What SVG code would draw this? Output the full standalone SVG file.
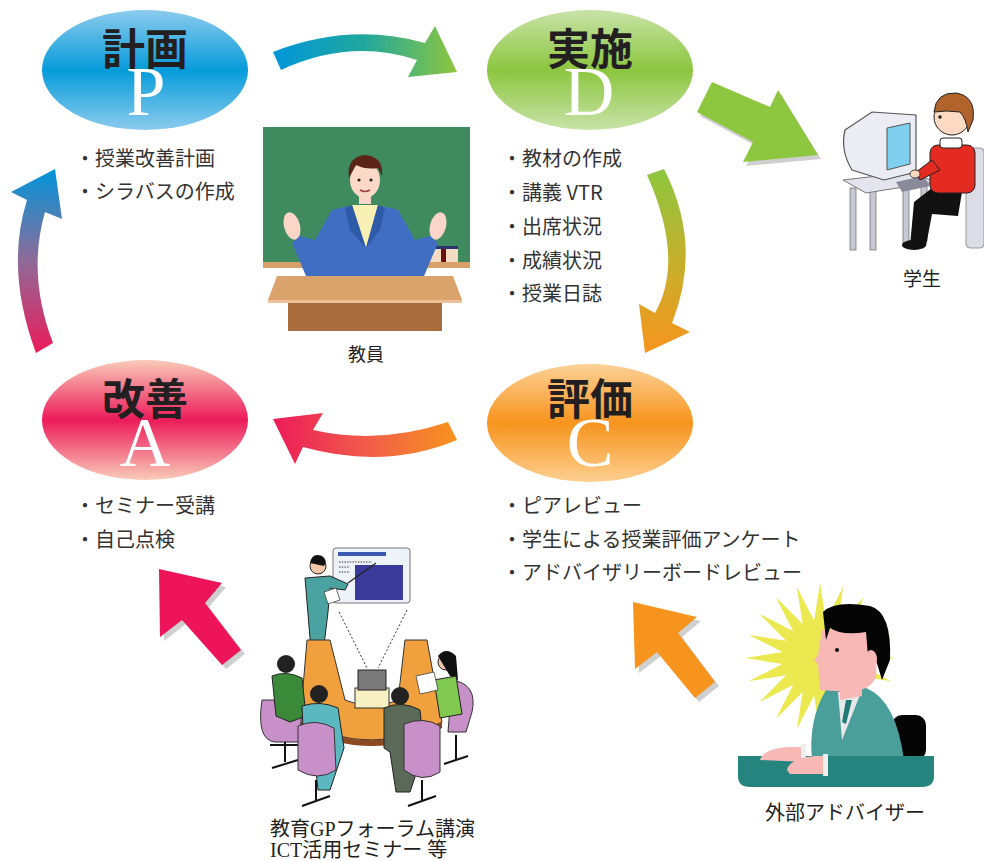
<svg xmlns="http://www.w3.org/2000/svg" width="984" height="861" viewBox="0 0 984 861">
  <defs>
    <style>
      .title { font-family: "Noto Sans CJK JP", "Noto Sans", sans-serif; font-weight: 700; font-size: 43px; fill: #231f20; text-anchor: middle; }
      .letter { font-family: "Liberation Serif", "Times New Roman", serif; font-size: 70px; fill: #ffffff; text-anchor: middle; }
      .item { font-family: "Noto Sans CJK JP", "Noto Sans", sans-serif; font-size: 20px; fill: #333333; }
      .cap { font-family: "Liberation Serif", "Noto Sans CJK JP", serif; fill: #231f20; text-anchor: middle; }
      .capl { font-family: "Liberation Serif", "Noto Sans CJK JP", serif; fill: #231f20; font-size: 20px; }
      .shadow { fill: #cfcfcf; }
    </style>
    <linearGradient id="gP" x1="0" y1="0" x2="0" y2="1">
      <stop offset="0" stop-color="#8ccbee"/>
      <stop offset="0.5" stop-color="#069cda"/>
      <stop offset="1" stop-color="#8ccbee"/>
    </linearGradient>
    <linearGradient id="gD" x1="0" y1="0" x2="0" y2="1">
      <stop offset="0" stop-color="#c8e3a8"/>
      <stop offset="0.5" stop-color="#8cc63f"/>
      <stop offset="1" stop-color="#c8e3a8"/>
    </linearGradient>
    <linearGradient id="gC" x1="0" y1="0" x2="0" y2="1">
      <stop offset="0" stop-color="#fdd197"/>
      <stop offset="0.5" stop-color="#f7941d"/>
      <stop offset="1" stop-color="#fdcf90"/>
    </linearGradient>
    <linearGradient id="gA" x1="0" y1="0" x2="0" y2="1">
      <stop offset="0" stop-color="#f9cbb8"/>
      <stop offset="0.5" stop-color="#ec1b5a"/>
      <stop offset="1" stop-color="#f9cbb8"/>
    </linearGradient>
    <linearGradient id="aPD" gradientUnits="userSpaceOnUse" x1="273" y1="0" x2="457" y2="0">
      <stop offset="0" stop-color="#0096da"/>
      <stop offset="0.5" stop-color="#22a89c"/>
      <stop offset="1" stop-color="#8dc63f"/>
    </linearGradient>
    <linearGradient id="aDC" gradientUnits="userSpaceOnUse" x1="0" y1="170" x2="0" y2="353">
      <stop offset="0" stop-color="#8dc63f"/>
      <stop offset="0.5" stop-color="#c6b02c"/>
      <stop offset="1" stop-color="#f7941d"/>
    </linearGradient>
    <linearGradient id="aCA" gradientUnits="userSpaceOnUse" x1="457" y1="0" x2="273" y2="0">
      <stop offset="0" stop-color="#f7941d"/>
      <stop offset="0.5" stop-color="#f15b4a"/>
      <stop offset="1" stop-color="#ec1b5a"/>
    </linearGradient>
    <linearGradient id="aAP" gradientUnits="userSpaceOnUse" x1="0" y1="353" x2="0" y2="169">
      <stop offset="0" stop-color="#ec1b5a"/>
      <stop offset="0.5" stop-color="#8f6a98"/>
      <stop offset="1" stop-color="#0096da"/>
    </linearGradient>
  </defs>

  <rect width="984" height="861" fill="#ffffff"/>

  <!-- cycle arrows and pointer arrows -->
  <g id="connectors">
    <path d="M273,52 Q350,22 425,43 L435,26 L457,72 L408,77 L417,60 Q350,38 281,70 Z" fill="url(#aPD)"/>
    <path d="M647,175 Q685,260 655,313 L639,304 L645,353 L690,332 L672,323 Q703,245 664,169 Z" fill="url(#aDC)"/>
    <path d="M448,422 Q380,445 313,430 L323,413 L273,419 L295,464 L303,447 Q385,470 457,440 Z" fill="url(#aCA)"/>
    <path d="M36,353 Q5,270 27,200 L11,192 L55,169 L62,219 L45,212 Q27,275 53,343 Z" fill="url(#aAP)"/>

    <!-- plan to student -->
    <g>
      <polygon class="shadow" transform="translate(3,4)" points="712,82 770,107 778,90 818,155 743,162 753,142 697,112"/>
      <polygon fill="#8dc63f" points="712,82 770,107 778,90 818,155 743,162 753,142 697,112"/>
    </g>
    <!-- seminar to act -->
    <g>
      <polygon class="shadow" transform="translate(4,4)" points="159,569 222,583 205,603 241,650 222,665 182,620 160,637"/>
      <polygon fill="#ed1459" points="159,569 222,583 205,603 241,650 222,665 182,620 160,637"/>
    </g>
    <!-- adviser to check -->
    <g>
      <polygon class="shadow" transform="translate(4,4)" points="633,602 697,617 678,633 715,682 695,698 657,652 635,669"/>
      <polygon fill="#f7941d" points="633,602 697,617 678,633 715,682 695,698 657,652 635,669"/>
    </g>
  </g>

  <!-- Plan -->
  <g id="plan">
    <ellipse cx="145" cy="70" rx="103" ry="60" fill="url(#gP)"/>
    <text class="title" x="145" y="65">計画</text>
    <text class="letter" x="146" y="115">P</text>
    <text class="item" x="75" y="166">・授業改善計画</text>
    <text class="item" x="75" y="199">・シラバスの作成</text>
  </g>

  <!-- Do -->
  <g id="do">
    <ellipse cx="590" cy="70" rx="103" ry="60" fill="url(#gD)"/>
    <text class="title" x="590" y="65">実施</text>
    <text class="letter" x="589" y="115">D</text>
    <text class="item" x="502" y="166">・教材の作成</text>
    <text class="item" x="502" y="200">・講義 VTR</text>
    <text class="item" x="502" y="234">・出席状況</text>
    <text class="item" x="502" y="268">・成績状況</text>
    <text class="item" x="502" y="301">・授業日誌</text>
  </g>

  <!-- Check -->
  <g id="check">
    <ellipse cx="590" cy="423" rx="103" ry="59" fill="url(#gC)"/>
    <text class="title" x="590" y="415">評価</text>
    <text class="letter" x="590" y="466">C</text>
    <text class="item" x="502" y="513">・ピアレビュー</text>
    <text class="item" x="502" y="547">・学生による授業評価アンケート</text>
    <text class="item" x="502" y="580">・アドバイザリーボードレビュー</text>
  </g>

  <!-- Act -->
  <g id="act">
    <ellipse cx="145" cy="420" rx="103" ry="60" fill="url(#gA)"/>
    <text class="title" x="145" y="415">改善</text>
    <text class="letter" x="145" y="466">A</text>
    <text class="item" x="75" y="513">・セミナー受講</text>
    <text class="item" x="75" y="547">・自己点検</text>
  </g>

  <!-- Teacher at the blackboard -->
  <g id="teacher">
    <rect x="263" y="127" width="207" height="135" fill="#3f8b5f"/>
    <rect x="263" y="262" width="207" height="6" fill="#d9a06a"/>
    <rect x="430" y="246" width="28" height="16" fill="#f2dcc4"/>
    <rect x="430" y="246" width="28" height="3" fill="#2a3470"/>
    <rect x="441" y="249" width="5" height="13" fill="#6a1010"/>
    <!-- hands -->
    <ellipse cx="292" cy="226" rx="8" ry="14" fill="#fbd6c8" transform="rotate(-15 292 226)"/>
    <ellipse cx="438" cy="226" rx="8" ry="14" fill="#fbd6c8" transform="rotate(15 438 226)"/>
    <!-- jacket -->
    <path d="M306,276 L292,243 L300,236 L315,240 L332,210 Q365,200 398,210 L415,240 L430,236 L438,243 L424,276 Z" fill="#3f6ec2"/>
    <path d="M352,205 L378,205 L366,248 Z" fill="#f7efb4"/>
    <path d="M345,208 L352,205 L366,248 L350,230 Z M385,208 L378,205 L366,248 L380,230 Z" fill="#2f5aa8"/>
    <!-- head -->
    <rect x="359" y="190" width="12" height="14" fill="#fbd6c8"/>
    <ellipse cx="365" cy="180" rx="15" ry="18" fill="#fbd9c6"/>
    <path d="M349,178 Q346,158 364,155 Q384,156 382,176 L378,168 Q366,170 356,165 Z" fill="#5b2417"/>
    <circle cx="359" cy="180" r="1.6" fill="#222"/>
    <circle cx="371" cy="180" r="1.6" fill="#222"/>
    <path d="M360,190 Q365,193 370,190" stroke="#a04040" stroke-width="1.5" fill="none"/>
    <!-- desk -->
    <polygon points="277,276 453,276 462,300 268,300" fill="#dba36c"/>
    <rect x="268" y="300" width="194" height="3" fill="#edc09a"/>
    <rect x="288" y="303" width="154" height="28" fill="#a96d3d"/>
    <text class="cap" x="366" y="361" font-size="18">教員</text>
  </g>

  <!-- Student at a computer -->
  <g id="student">
    <rect x="966" y="148" width="18" height="100" rx="4" fill="#dcdce6" stroke="#999" stroke-width="1"/>
    <!-- desk -->
    <rect x="850" y="188" width="6" height="62" fill="#c8c8d4" stroke="#777" stroke-width="0.8"/>
    <rect x="870" y="190" width="6" height="60" fill="#c8c8d4" stroke="#777" stroke-width="0.8"/>
    <rect x="903" y="188" width="6" height="55" fill="#c8c8d4" stroke="#777" stroke-width="0.8"/>
    <rect x="921" y="186" width="6" height="55" fill="#c8c8d4" stroke="#777" stroke-width="0.8"/>
    <polygon points="843,180 912,172 935,182 866,193" fill="#e4e4ee" stroke="#777" stroke-width="1"/>
    <!-- monitor -->
    <path d="M845,130 L872,112 L916,115 L916,172 L884,180 L852,170 Q840,150 845,130 Z" fill="#ececf4" stroke="#555" stroke-width="1.2"/>
    <polygon points="887,128 910,123 910,164 887,170" fill="#7fd0ee" stroke="#555" stroke-width="1"/>
    <polygon points="896,182 924,176 930,186 902,192" fill="#8a8a9a"/>
    <!-- boy -->
    <path d="M932,188 L962,192 L958,216 L932,214 L926,246 L910,246 L914,202 Z" fill="#111"/>
    <ellipse cx="914" cy="245" rx="12" ry="5" fill="#111"/>
    <rect x="930" y="145" width="45" height="48" rx="8" fill="#e32b22" stroke="#222" stroke-width="1"/>
    <path d="M932,160 L916,172 L920,180 L940,170 Z" fill="#e32b22" stroke="#222" stroke-width="1"/>
    <ellipse cx="915" cy="174" rx="5" ry="4" fill="#fbd6c0" stroke="#222" stroke-width="0.8"/>
    <rect x="940" y="138" width="22" height="10" rx="3" fill="#ffffff" stroke="#222" stroke-width="1"/>
    <circle cx="952" cy="117" r="18" fill="#fbd9c2" stroke="#222" stroke-width="1"/>
    <path d="M934,112 Q936,92 956,93 Q976,96 973,120 L968,132 Q966,118 960,112 Q946,110 934,112 Z" fill="#b0632a" stroke="#222" stroke-width="1"/>
    <circle cx="940" cy="117" r="1.8" fill="#222"/>
    <text class="cap" x="922" y="286" font-size="19">学生</text>
  </g>

  <!-- Seminar -->
  <g id="seminar">
    <!-- screen -->
    <rect x="333" y="548" width="77" height="55" rx="3" fill="#eef3fa" stroke="#777" stroke-width="1"/>
    <rect x="338" y="552" width="48" height="4" fill="#3b5bb0"/>
    <rect x="355" y="565" width="48" height="35" fill="#3a3a9a"/>
    <path d="M339,562 H372 M339,567 H350 M339,572 H350" stroke="#777" stroke-width="1.5" stroke-dasharray="1.5,1.2"/>
    <line x1="348" y1="583" x2="376" y2="563" stroke="#222" stroke-width="1.2"/>
    <!-- presenter -->
    <circle cx="318" cy="566" r="8" fill="#f4c8a8" stroke="#222"/>
    <path d="M310,563 Q312,552 322,556 Q328,560 324,566 Z" fill="#111"/>
    <path d="M305,578 L330,576 L348,584 L345,590 L330,588 L328,612 L322,662 L312,662 L308,614 Z" fill="#4aa3a0" stroke="#222" stroke-width="1"/>
    <polygon points="324,592 336,588 340,600 328,604" fill="#ffffff" stroke="#444" stroke-width="0.8"/>
    <!-- projector rays -->
    <line x1="339" y1="612" x2="367" y2="668" stroke="#333" stroke-width="1" stroke-dasharray="2,2"/>
    <line x1="407" y1="610" x2="378" y2="668" stroke="#333" stroke-width="1" stroke-dasharray="2,2"/>
    <!-- table -->
    <path d="M307,640 L330,640 L345,700 Q372,712 398,700 L405,640 L427,640 L442,722 Q372,758 300,722 Z" fill="#f0a03c" stroke="#333" stroke-width="1"/>
    <path d="M300,722 Q372,758 442,722 L442,728 Q372,764 300,728 Z" fill="#8b4a22"/>
    <!-- projector -->
    <rect x="355" y="688" width="34" height="20" fill="#f6f0c2" stroke="#333" stroke-width="1"/>
    <rect x="358" y="670" width="28" height="20" fill="#7a7a7a" stroke="#222" stroke-width="1"/>
    <!-- left person -->
    <path d="M292,690 L278,690 L275,700 L262,700 Q256,740 275,742 L300,742 L302,700 Z" fill="#c890c8" stroke="#333" stroke-width="1"/>
    <circle cx="286" cy="664" r="9" fill="#222"/>
    <path d="M272,676 Q286,670 302,678 L306,716 L290,722 L276,716 Z" fill="#3a8a3a" stroke="#222" stroke-width="1"/>
    <path d="M270,745 L300,745 M285,742 L285,762 M272,768 L298,760" stroke="#111" stroke-width="2"/>
    <!-- right woman -->
    <path d="M452,680 Q478,684 472,712 L466,732 L448,732 Z" fill="#c890c8" stroke="#333" stroke-width="1"/>
    <circle cx="446" cy="662" r="8" fill="#f4c8a8" stroke="#222"/>
    <path d="M438,656 Q446,646 456,656 L458,680 L450,676 Z" fill="#111"/>
    <path d="M434,680 L456,676 L462,714 L440,718 Z" fill="#80c850" stroke="#222" stroke-width="1"/>
    <polygon points="416,676 434,672 438,690 420,694" fill="#ffffff" stroke="#444" stroke-width="0.8"/>
    <path d="M456,735 L456,760 M444,764 L468,756" stroke="#111" stroke-width="2"/>
    <!-- front-left person -->
    <circle cx="319" cy="694" r="9" fill="#222"/>
    <path d="M302,706 Q320,700 338,708 L344,748 L330,790 L318,790 L314,752 L304,750 Z" fill="#5cb8c0" stroke="#222" stroke-width="1"/>
    <path d="M298,726 Q316,718 334,728 L336,770 Q318,782 298,770 Z" fill="#c890c8" stroke="#333" stroke-width="1"/>
    <path d="M316,780 L316,800 M302,806 L330,796" stroke="#111" stroke-width="2"/>
    <!-- front-right person -->
    <circle cx="400" cy="696" r="9" fill="#222"/>
    <path d="M384,708 Q402,700 420,710 L424,750 L410,792 L396,792 L390,752 L384,748 Z" fill="#5b6a58" stroke="#222" stroke-width="1"/>
    <path d="M404,724 Q424,716 440,726 L440,772 Q422,784 404,770 Z" fill="#c890c8" stroke="#333" stroke-width="1"/>
    <path d="M422,780 L422,800 M408,806 L436,796" stroke="#111" stroke-width="2"/>
    <text class="capl" x="270" y="836">教育GPフォーラム講演</text>
    <text class="capl" x="270" y="857">ICT活用セミナー 等</text>
  </g>

  <!-- External adviser -->
  <g id="adviser">
    <polygon fill="#ece84f" points="895,658 857.5,663.9 891.3,681.2 853.9,675.3 880.7,702.1 846.9,684.9 864.1,718.7 837.3,691.9 843.2,729.3 825.9,695.5 820,733 814.1,695.5 796.8,729.3 802.7,691.9 775.9,718.7 793.1,684.9 759.3,702.1 786.1,675.3 748.7,681.2 782.5,663.9 745,658 782.5,652.1 748.7,634.8 786.1,640.7 759.3,613.9 793.1,631.1 775.9,597.3 802.7,624.1 796.8,586.7 814.1,620.5 820,583 825.9,620.5 843.2,586.7 837.3,624.1 864.1,597.3 846.9,631.1 880.7,613.9 853.9,640.7 891.3,634.8 857.5,652.1"/>
    <rect x="892" y="715" width="34" height="45" rx="10" fill="#050505"/>
    <!-- suit -->
    <path d="M826,690 L866,688 Q896,700 904,760 L812,760 Q808,720 826,690 Z" fill="#4a9f9b"/>
    <path d="M838,692 L862,690 L842,740 Z" fill="#e8e8e8"/>
    <path d="M846,700 L852,700 L846,724 L842,722 Z" fill="#227a76"/>
    <!-- head -->
    <path d="M840,676 L862,676 L862,696 L840,700 Z" fill="#f7b8b6"/>
    <path d="M822,630 L818,655 L814,660 L818,664 L820,690 L850,692 Q872,690 876,676 L878,628 Z" fill="#f7b8b6"/>
    <path d="M823,612 Q835,600 870,606 Q892,612 890,660 L882,680 L876,660 L868,656 L866,632 Q842,636 830,628 L826,640 Z" fill="#050505"/>
    <ellipse cx="871" cy="659" rx="6" ry="9" fill="#f7b8b6"/>
    <circle cx="837" cy="650" r="2" fill="#050505"/>
    <!-- desk and hands -->
    <path d="M738,756 L934,756 L934,776 Q934,787 922,787 L750,787 Q738,787 738,776 Z" fill="#26847e"/>
    <path d="M760,760 Q764,748 790,747 L802,747 L805,762 Z" fill="#f7b8b6"/>
    <rect x="801" y="744" width="5" height="18" fill="#eeeeee"/>
    <path d="M787,770 Q790,758 815,756 L826,756 L828,774 L790,774 Z" fill="#f7b8b6"/>
    <rect x="823" y="754" width="5" height="22" fill="#eeeeee"/>
    <text class="cap" x="845" y="820" font-size="20">外部アドバイザー</text>
  </g>
</svg>
